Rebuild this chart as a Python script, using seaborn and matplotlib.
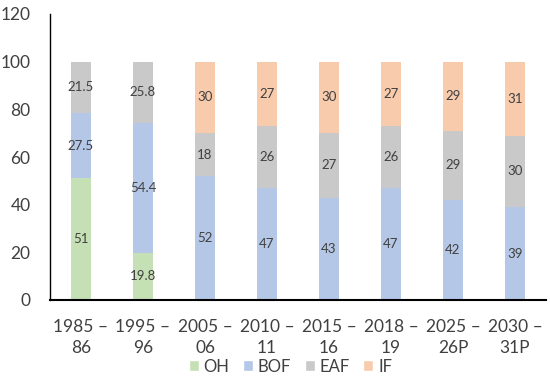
import matplotlib
matplotlib.use("Agg")
import matplotlib.pyplot as plt
from matplotlib.patches import Patch
import pandas as pd
import seaborn as sns

sns.set_style("white")
plt.rcParams["font.family"] = ["Lato", "DejaVu Sans"]

periods = ["1985 –\n86", "1995 –\n96", "2005 –\n06", "2010 –\n11",
           "2015 –\n16", "2018 –\n19", "2025 –\n26P", "2030 –\n31P"]
oh = [51, 19.8, 0, 0, 0, 0, 0, 0]
bof = [27.5, 54.4, 52, 47, 43, 47, 42, 39]
eaf = [21.5, 25.8, 18, 26, 27, 26, 29, 30]
inf = [0, 0, 30, 27, 30, 27, 29, 31]

processes = ["OH", "BOF", "EAF", "IF"]
values = dict(zip(processes, [oh, bof, eaf, inf]))
colors = {"OH": "#C5E0B4", "BOF": "#B4C7E7", "EAF": "#C9C9C9", "IF": "#F8CBAD"}

rows = []
for name in processes:
    for p, v in zip(periods, values[name]):
        rows.append({"period": p, "process": name, "value": v})
df = pd.DataFrame(rows)
df["period"] = pd.Categorical(df["period"], categories=periods, ordered=True)

fig, ax = plt.subplots(figsize=(5.5, 3.76), dpi=100)
fig.subplots_adjust(left=50/550, right=546/550, top=1-14/376, bottom=1-300/376)

# histplot stacks the last hue level at the bottom
sns.histplot(data=df, x="period", weights="value", hue="process",
             hue_order=processes[::-1], multiple="stack", discrete=True,
             shrink=0.32, palette=colors, alpha=1, linewidth=0,
             legend=False, ax=ax)

# value labels in the middle of each segment (containers come bottom-up)
for cont, name in zip(ax.containers, processes):
    labels = ["" if v == 0 else f"{v:g}" for v in values[name]]
    ax.bar_label(cont, labels=labels, label_type="center",
                 fontsize=9.5, color="#404040")

ax.set_ylim(0, 120)
ax.set_yticks(range(0, 121, 20))
ax.set_xlim(-0.5, len(periods) - 0.5)
ax.set_xticks(range(len(periods)))
ax.set_xticklabels(periods, linespacing=1.35)
ax.set_xlabel("")
ax.set_ylabel("")
ax.tick_params(axis="both", labelsize=12.5, colors="#404040", length=0)
ax.tick_params(axis="x", pad=14)
ax.tick_params(axis="y", pad=14)

for s in ["top", "right"]:
    ax.spines[s].set_visible(False)
ax.spines["left"].set_color("black")
ax.spines["left"].set_linewidth(1.0)
ax.spines["bottom"].set_color("black")
ax.spines["bottom"].set_linewidth(1.5)

handles = [Patch(facecolor=colors[n], label=n) for n in processes]
fig.legend(handles=handles, loc="center", bbox_to_anchor=(0.528, 0.025),
           ncol=4, frameon=False, fontsize=12, handlelength=0.6,
           handleheight=0.6, handletextpad=0.3, columnspacing=0.8,
           labelcolor="#404040")

fig.savefig("out.png", dpi=100)
